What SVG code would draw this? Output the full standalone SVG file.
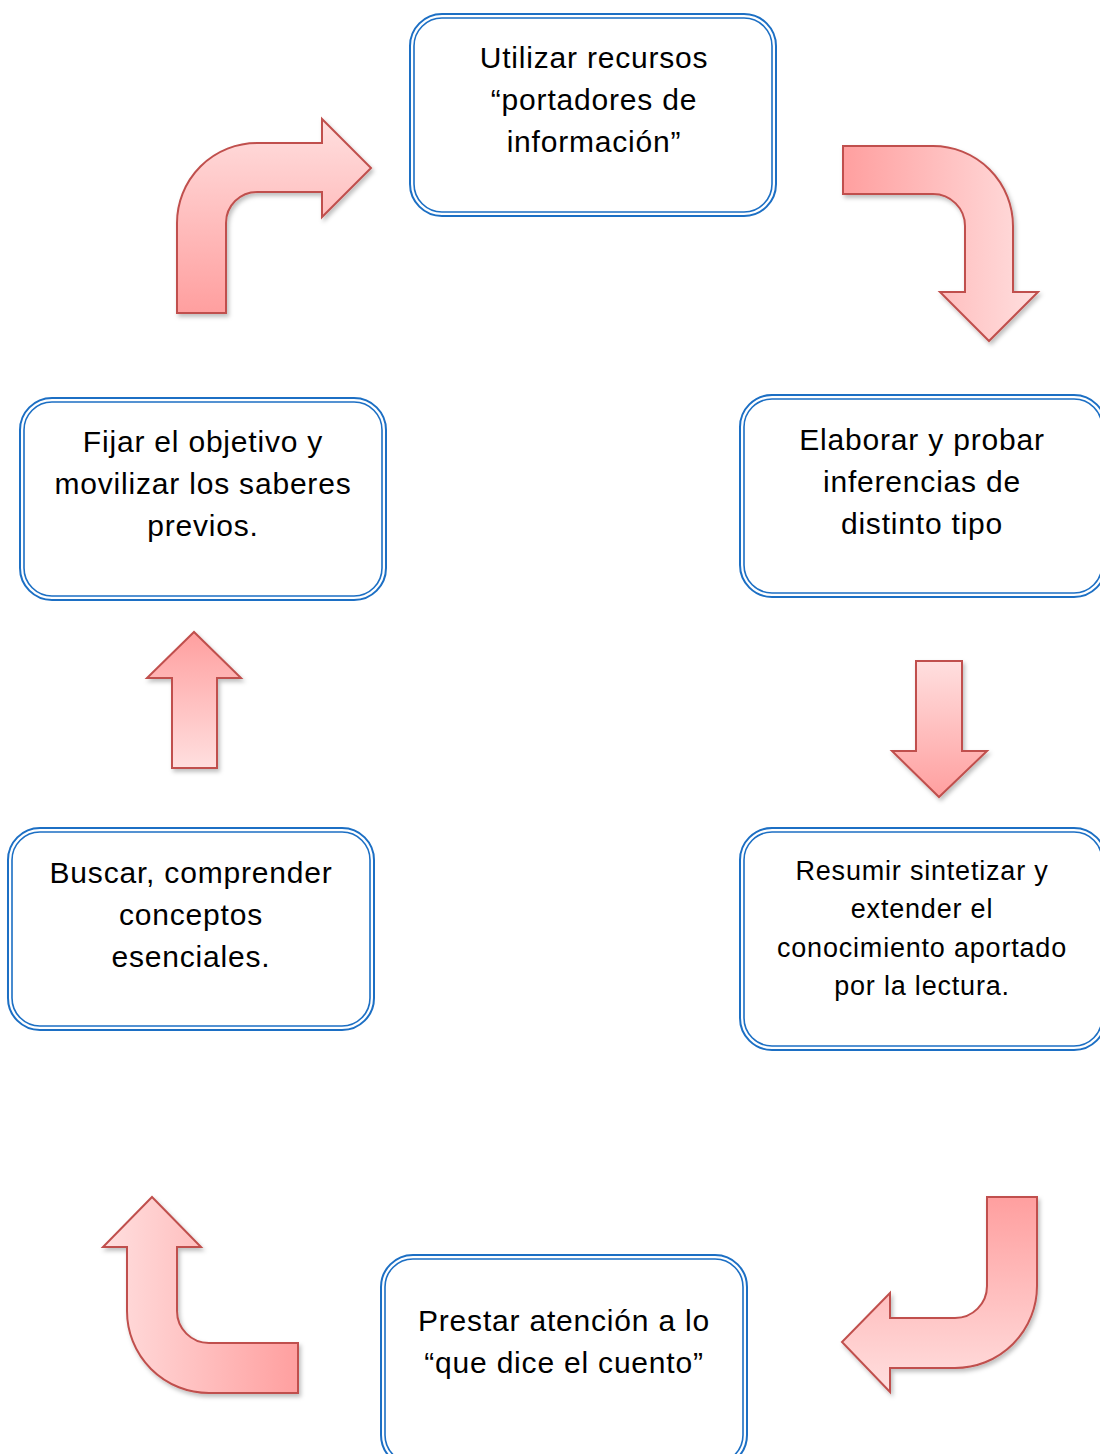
<svg xmlns="http://www.w3.org/2000/svg" width="1100" height="1454" viewBox="0 0 1100 1454">
<defs>
<linearGradient id="gUp" x1="0" y1="0" x2="0" y2="1"><stop offset="0" stop-color="#FFDFDF"/><stop offset="1" stop-color="#FF9F9F"/></linearGradient>
<linearGradient id="gDown" x1="0" y1="0" x2="0" y2="1"><stop offset="0" stop-color="#FF9F9F"/><stop offset="1" stop-color="#FFDFDF"/></linearGradient>
<linearGradient id="gLR" x1="0" y1="0" x2="1" y2="0"><stop offset="0" stop-color="#FF9F9F"/><stop offset="1" stop-color="#FFDFDF"/></linearGradient>
<linearGradient id="gRL" x1="0" y1="0" x2="1" y2="0"><stop offset="0" stop-color="#FFDFDF"/><stop offset="1" stop-color="#FF9F9F"/></linearGradient>
<filter id="sh" x="-20%" y="-20%" width="140%" height="140%"><feDropShadow dx="2" dy="3" stdDeviation="2" flood-color="#000" flood-opacity="0.25"/></filter>
</defs>
<style>
.bo{fill:#fff;stroke:#1C6FC4;stroke-width:2}
.bi{fill:none;stroke:#1C6FC4;stroke-width:1.6}
.t{font-family:"Liberation Sans",Arial,sans-serif;font-size:30px;fill:#000;text-anchor:middle;letter-spacing:0.8px}
.ts{font-size:27px}
.ar{stroke:#C0504D;stroke-width:2;stroke-linejoin:miter;filter:url(#sh)}
</style>
<rect width="1100" height="1454" fill="#fff"/>
<g id="nodes">
<g id="n-utilizar">
<rect class="bo" x="410" y="14" width="366" height="202" rx="32"/>
<rect class="bi" x="414" y="18" width="358" height="194" rx="28"/>
<text class="t" x="594" y="68">Utilizar recursos</text>
<text class="t" x="594" y="110">“portadores de</text>
<text class="t" x="594" y="152">información”</text>
</g>
<g id="n-fijar">
<rect class="bo" x="20" y="398" width="366" height="202" rx="32"/>
<rect class="bi" x="24" y="402" width="358" height="194" rx="28"/>
<text class="t" x="203" y="452">Fijar el objetivo y</text>
<text class="t" x="203" y="494">movilizar los saberes</text>
<text class="t" x="203" y="536">previos.</text>
</g>
<g id="n-elaborar">
<rect class="bo" x="740" y="395" width="366" height="202" rx="32"/>
<rect class="bi" x="744" y="399" width="358" height="194" rx="28"/>
<text class="t" x="922" y="450">Elaborar y probar</text>
<text class="t" x="922" y="492">inferencias de</text>
<text class="t" x="922" y="534">distinto tipo</text>
</g>
<g id="n-buscar">
<rect class="bo" x="8" y="828" width="366" height="202" rx="32"/>
<rect class="bi" x="12" y="832" width="358" height="194" rx="28"/>
<text class="t" x="191" y="883">Buscar, comprender</text>
<text class="t" x="191" y="925">conceptos</text>
<text class="t" x="191" y="967">esenciales.</text>
</g>
<g id="n-resumir">
<rect class="bo" x="740" y="828" width="366" height="222" rx="32"/>
<rect class="bi" x="744" y="832" width="358" height="214" rx="28"/>
<text class="t ts" x="922" y="880">Resumir sintetizar y</text>
<text class="t ts" x="922" y="918">extender el</text>
<text class="t ts" x="922" y="957">conocimiento aportado</text>
<text class="t ts" x="922" y="995">por la lectura.</text>
</g>
<g id="n-prestar">
<rect class="bo" x="381" y="1255" width="366" height="212" rx="32"/>
<rect class="bi" x="385" y="1259" width="358" height="204" rx="28"/>
<text class="t" x="564" y="1331">Prestar atención a lo</text>
<text class="t" x="564" y="1373">“que dice el cuento”</text>
</g>
</g>
<g id="connectors">
<path id="a1" class="ar" fill="url(#gUp)" d="M177,313 L177,223 A80,80 0 0 1 257,143 L322,143 L322,119 L371,168 L322,217 L322,192 L257,192 A31,31 0 0 0 226,223 L226,313 Z"/>
<path id="a2" class="ar" fill="url(#gLR)" d="M843,146 L933,146 A80,80 0 0 1 1013,226 L1013,292 L1038,292 L989,341 L940,292 L965,292 L965,226 A32,32 0 0 0 933,194 L843,194 Z"/>
<path id="a3" class="ar" fill="url(#gUp)" d="M916,661 L962,661 L962,751 L987,751 L939,797 L892,751 L916,751 Z"/>
<path id="a4" class="ar" fill="url(#gDown)" d="M987,1197 L1037,1197 L1037,1286 A82,82 0 0 1 955,1368 L890,1368 L890,1392 L842,1342 L890,1293 L890,1318 L955,1318 A32,32 0 0 0 987,1286 Z"/>
<path id="a5" class="ar" fill="url(#gRL)" d="M298,1343 L298,1393 L209,1393 A82,82 0 0 1 127,1311 L127,1247 L103,1247 L152,1197 L201,1247 L177,1247 L177,1311 A32,32 0 0 0 209,1343 Z"/>
<path id="a6" class="ar" fill="url(#gDown)" d="M172,768 L172,678 L147,678 L194,632 L241,678 L217,678 L217,768 Z"/>
</g>
</svg>
